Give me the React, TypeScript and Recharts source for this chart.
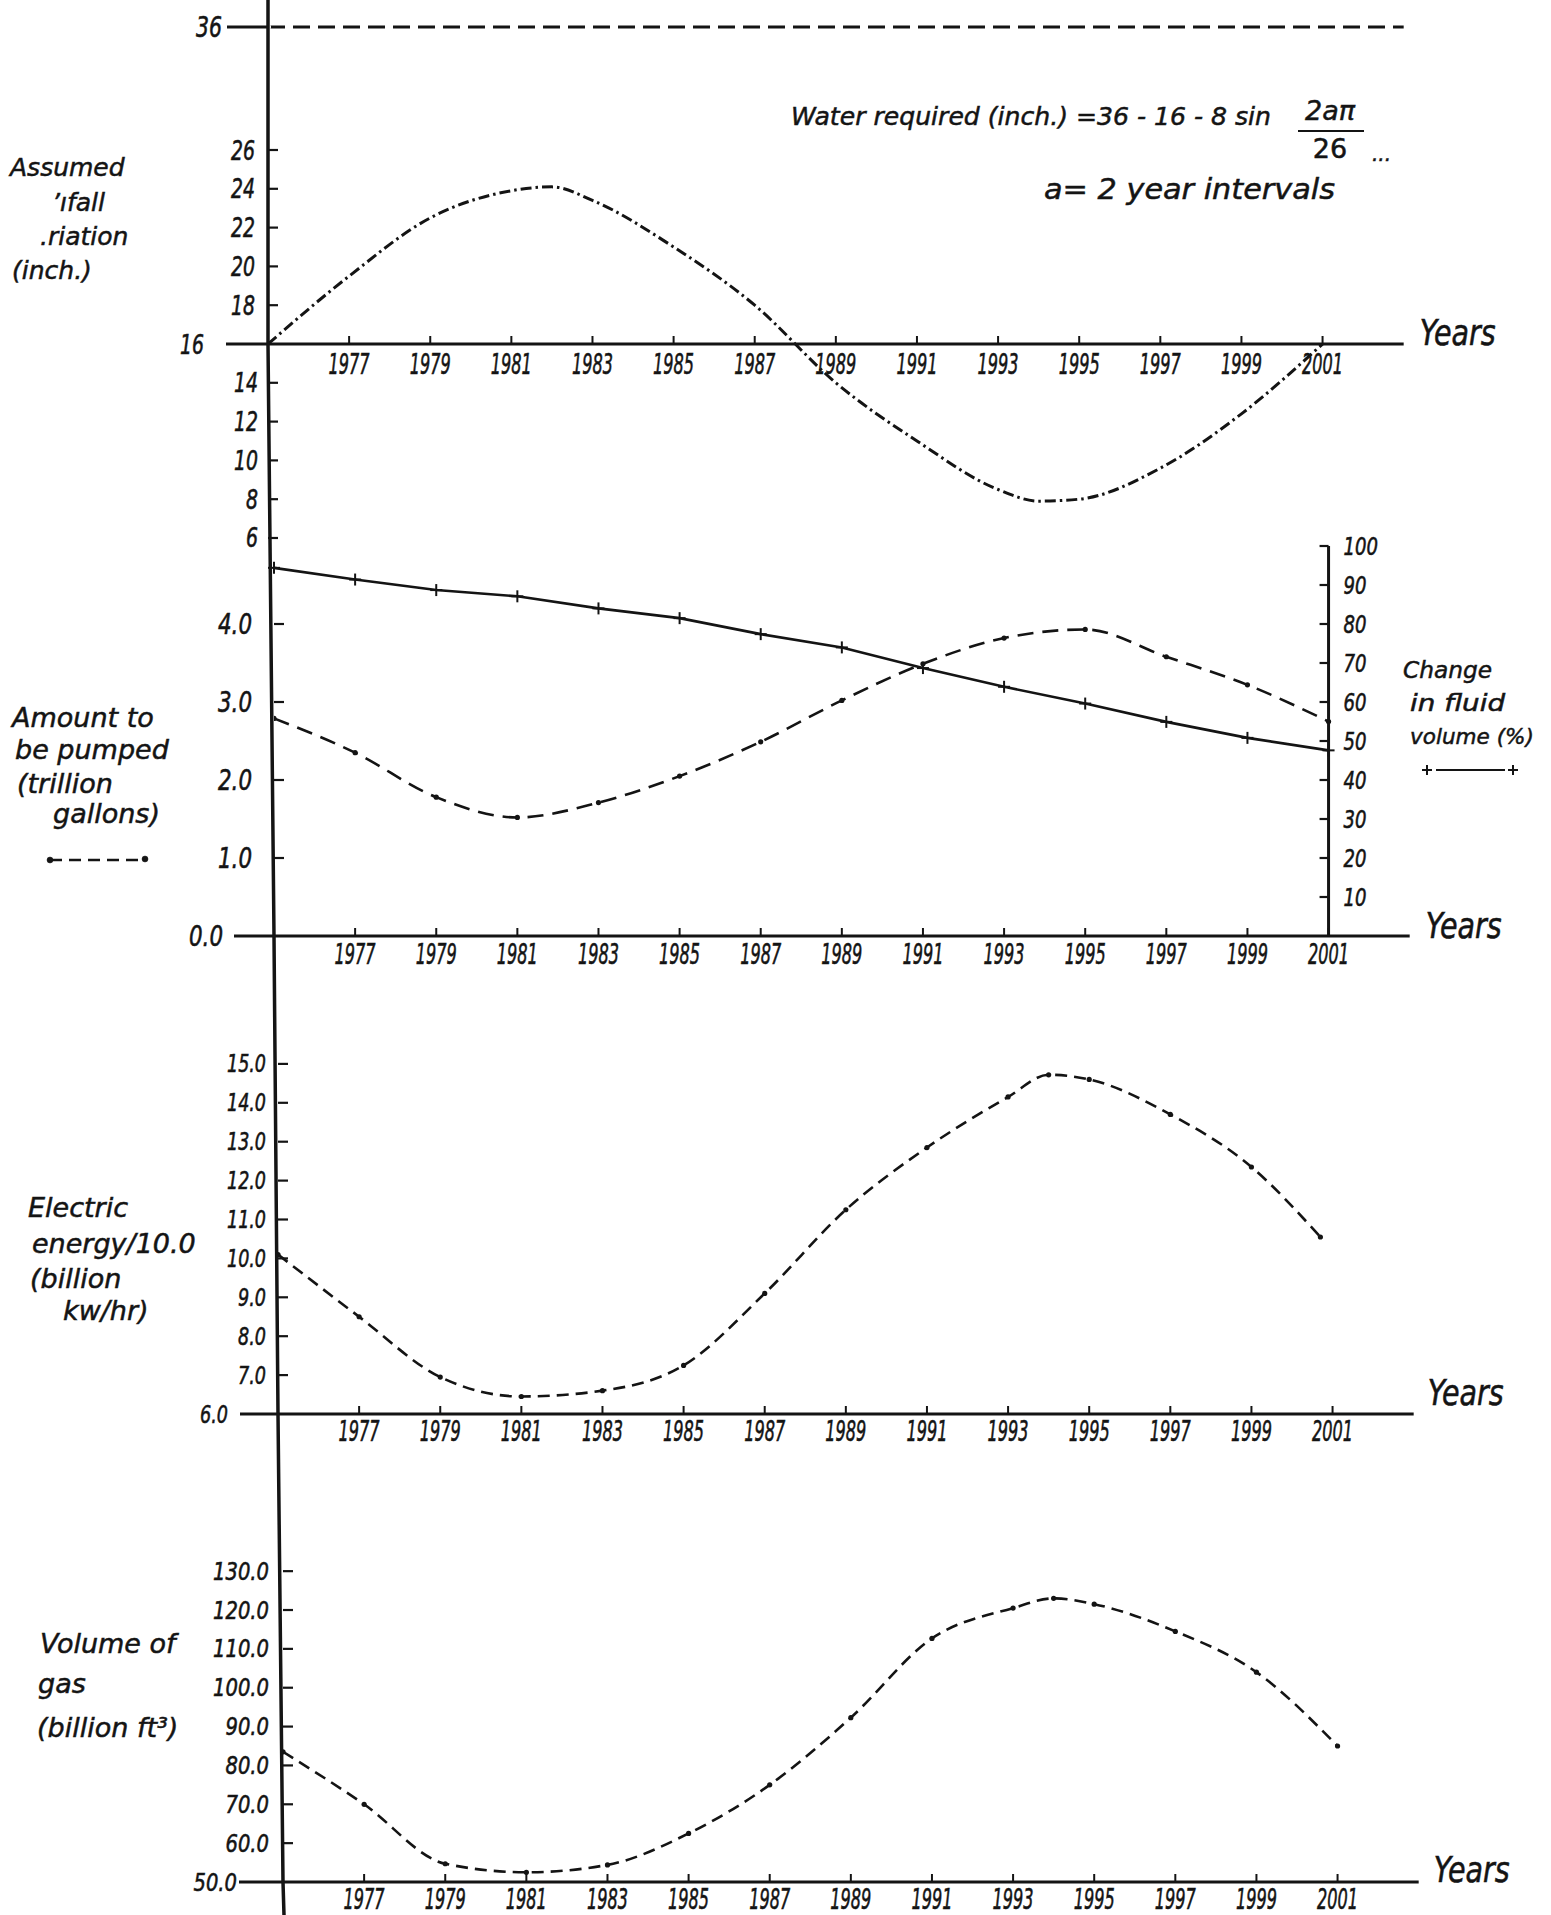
import React from 'react';
import { LineChart, Line, XAxis, YAxis, ReferenceLine, Label } from 'recharts';

// ---------------- data ----------------
const yearTicks = [1977, 1979, 1981, 1983, 1985, 1987, 1989, 1991, 1993, 1995, 1997, 1999, 2001];

const waterRequiredInches = 36;
const rainYears = [1975, 1977, 1979, 1981, 1982, 1983, 1985, 1987, 1989, 1991, 1993, 1994, 1995, 1997, 1999, 2001];
const rainInches = [16.0, 19.5, 22.5, 23.9, 24.1, 23.4, 21.0, 18.0, 14.0, 11.0, 8.5, 7.9, 8.0, 9.6, 12.4, 16.0];
const rainTicksUpper = [16, 18, 20, 22, 24, 26];
const rainTicksLower = [6, 8, 10, 12, 14];

const pumpYears = [1975, 1977, 1979, 1981, 1983, 1985, 1987, 1989, 1991, 1993, 1995, 1997, 1999, 2001];
const pumpedTrillionGal = [2.79, 2.35, 1.78, 1.52, 1.71, 2.05, 2.49, 3.02, 3.49, 3.82, 3.93, 3.58, 3.22, 2.75];
const fluidVolumePct = [94.4, 91.4, 88.7, 87.1, 84.0, 81.5, 77.4, 74.0, 68.7, 63.9, 59.6, 54.9, 50.8, 47.6];
const pumpTicks = [0, 1, 2, 3, 4];
const fluidTicks = [10, 20, 30, 40, 50, 60, 70, 80, 90, 100];

const elecYears = [1975, 1977, 1979, 1981, 1983, 1985, 1987, 1989, 1991, 1993, 1994, 1995, 1997, 1999, 2000.7];
const electricEnergy = [10.1, 8.5, 6.95, 6.45, 6.6, 7.25, 9.1, 11.25, 12.85, 14.15, 14.72, 14.6, 13.7, 12.35, 10.55];
const elecTicks = [6, 7, 8, 9, 10, 11, 12, 13, 14, 15];

const gasYears = [1975, 1977, 1979, 1981, 1983, 1985, 1987, 1989, 1991, 1993, 1994, 1995, 1997, 1999, 2001];
const gasVolume = [83.5, 70, 54.7, 52.5, 54.4, 62.5, 75, 92.3, 112.7, 120.5, 123, 121.5, 114.5, 104, 85];
const gasTicks = [50, 60, 70, 80, 90, 100, 110, 120, 130];

const zip = (xs: number[], ys: number[]) => xs.map((x, i) => ({ year: x, v: ys[i] }));
const rainData = zip(rainYears, rainInches);
const pumpData = pumpYears.map((y, i) => ({ year: y, pumped: pumpedTrillionGal[i], fluid: fluidVolumePct[i] }));
const elecData = zip(elecYears, electricEnergy);
const gasData = zip(gasYears, gasVolume);
const waterData = [{ year: 1975, v: waterRequiredInches }];

// ---------------- style / layout ----------------
const PAGE_W = 1551;
const PAGE_H = 1915;
const INK = '#141414';
const NUMF = "'DejaVu Sans', 'Liberation Sans', sans-serif";
const HAND = "'DejaVu Sans', 'Liberation Sans', sans-serif";
const YEAR_MIN = 1975;
const YEAR_MAX = 2003;
const PX_PER_YEAR = 40.56;
const YAW = 90; // y-axis reserved width
const PEN = { stroke: INK, strokeWidth: 0.6 } as const; // thickens glyphs like pen lettering

const leftMargin = (x0: number) => x0 - YAW;
const rightMarginFor = (x0: number, yearEnd: number, axisW: number) =>
  PAGE_W - x0 - (yearEnd - YEAR_MIN) * PX_PER_YEAR - axisW;

// width of a hand-lettered number: digits are narrow and tall
const numLen = (s: string, dw: number, pw = 6) =>
  s.split('').reduce((a, c) => a + (c === '.' ? pw : dw), 0);

// ---------------- custom ticks ----------------
type LeftTickOpts = {
  fmt: (v: number) => string;
  fontSize: number;
  dw: number;
  stubAt?: number;
  stubLen?: number;
  stubGap?: number;
  gap?: number;
};
const makeLeftTick = (o: LeftTickOpts) => (p: any) => {
  const { x, y, payload } = p;
  const v = Number(payload.value);
  const stubLen = o.stubLen ?? 40;
  const isStub = o.stubAt !== undefined && Math.abs(v - o.stubAt) < 1e-9;
  const s = o.fmt(v);
  return (
    <g>
      {isStub ? (
        <path d={`M${x - stubLen},${y}H${x}`} stroke={INK} strokeWidth={3.2} fill="none" />
      ) : (
        <path d={`M${x},${y}H${x + 10}`} stroke={INK} strokeWidth={2.2} fill="none" />
      )}
      <text
        x={isStub ? x - stubLen - (o.stubGap ?? 6) : x - (o.gap ?? 13)}
        y={y}
        textAnchor="end"
        dominantBaseline="central"
        fontFamily={NUMF}
        fontStyle="italic"
        fontSize={o.fontSize}
        textLength={numLen(s, o.dw)}
        lengthAdjust="spacingAndGlyphs"
        fill={INK}
        {...PEN}
      >
        {s}
      </text>
    </g>
  );
};

const RightTick = (p: any) => {
  const { x, y, payload } = p;
  const s = String(payload.value);
  return (
    <g>
      <line x1={x - 9} x2={x} y1={y} y2={y} stroke={INK} strokeWidth={2.2} />
      <text x={x + 15} y={y} textAnchor="start" dominantBaseline="central" fontFamily={NUMF} fontStyle="italic" fontSize={25}
        textLength={numLen(s, 11.5)} lengthAdjust="spacingAndGlyphs" fill={INK} {...PEN}>
        {s}
      </text>
    </g>
  );
};

const makeYearTick = (labelDy: number) => (p: any) => {
  const { x, y, payload } = p;
  return (
    <g>
      <line x1={x} x2={x} y1={y} y2={y - 8} stroke={INK} strokeWidth={2} />
      <text x={x} y={y + labelDy} textAnchor="middle" dominantBaseline="central" fontFamily={NUMF} fontStyle="italic" fontSize={28}
        textLength={41} lengthAdjust="spacingAndGlyphs" fill={INK} {...PEN}>
        {payload.value}
      </text>
    </g>
  );
};

const makeYearsLabel = (dx: number, dy: number) => (p: any) => {
  const vb = p.viewBox || {};
  return (
    <text x={vb.x + vb.width + dx} y={vb.y + dy} textAnchor="start" dominantBaseline="central" fontFamily={HAND} fontStyle="italic" fontSize={36}
      textLength={76} lengthAdjust="spacingAndGlyphs" fill={INK} {...PEN}>
      Years
    </text>
  );
};

const PlusDot = (p: any) => {
  const { cx, cy, index } = p;
  if (cx == null || cy == null) return <g key={`pd-${index}`} />;
  return (
    <g key={`pd-${index}`}>
      <line x1={cx - 6} x2={cx + 6} y1={cy} y2={cy} stroke={INK} strokeWidth={2} />
      <line x1={cx} x2={cx} y1={cy - 6} y2={cy + 6} stroke={INK} strokeWidth={2} />
    </g>
  );
};

const smallDot = { r: 2.6, fill: INK, stroke: 'none' };

// ---------------- panel helper ----------------
const Abs: React.FC<{ top: number; children: React.ReactNode }> = ({ top, children }) => (
  <div style={{ position: 'absolute', left: 0, top }}>{children}</div>
);

const xAxisCommon = {
  dataKey: 'year',
  type: 'number' as const,
  domain: [YEAR_MIN, YEAR_MAX] as [number, number],
  allowDataOverflow: true,
};

const axisLine = { stroke: INK, strokeWidth: 3 };

export default function App() {
  const x1 = 268;
  const x2 = 274;
  const x3 = 278;
  const x4 = 283;

  const fmtInt = (v: number) => String(v);
  const fmt1 = (v: number) => v.toFixed(1);

  return (
    <div style={{ position: 'absolute', left: 0, top: 0, width: PAGE_W, height: PAGE_H, background: '#ffffff', overflow: 'hidden' }}>
      {/* Panel 1 lower: rainfall <= 16 */}
      <Abs top={324}>
        <LineChart width={PAGE_W} height={233.4} data={rainData} margin={{ top: 20, bottom: 0, left: leftMargin(x1), right: rightMarginFor(x1, YEAR_MAX, 0) }}>
          <XAxis {...xAxisCommon} hide />
          <YAxis type="number" domain={[5, 16]} allowDataOverflow ticks={rainTicksLower} interval={0} width={YAW} axisLine={false} tickLine={false} tickSize={0} tickMargin={0}
            tick={makeLeftTick({ fmt: fmtInt, fontSize: 27, dw: 12, gap: 10 })} />
          <Line type="monotone" dataKey="v" stroke={INK} strokeWidth={3} strokeDasharray="11 4 2.5 4" dot={false} isAnimationActive={false} />
        </LineChart>
      </Abs>

      {/* required water level (broken axis part) */}
      <Abs top={0}>
        <LineChart width={PAGE_W} height={54} data={waterData} margin={{ top: 0, bottom: 0, left: leftMargin(x1), right: rightMarginFor(x1, YEAR_MAX, 0) }}>
          <XAxis {...xAxisCommon} hide />
          <YAxis type="number" domain={[35, 37]} ticks={[36]} interval={0} width={YAW} axisLine={false} tickLine={false} tickSize={0} tickMargin={0}
            tick={makeLeftTick({ fmt: fmtInt, fontSize: 28, dw: 13, stubAt: 36, stubLen: 41, stubGap: 5 })} />
          <ReferenceLine y={waterRequiredInches} stroke={INK} strokeWidth={3} strokeDasharray="17 8" />
          <Line dataKey="v" stroke="none" dot={false} isAnimationActive={false} />
        </LineChart>
      </Abs>

      {/* Panel 1 upper: rainfall >= 16 */}
      <Abs top={0}>
        <LineChart width={PAGE_W} height={384} data={rainData} margin={{ top: 72.4, bottom: 0, left: leftMargin(x1), right: rightMarginFor(x1, YEAR_MAX, 0) }}>
          <XAxis {...xAxisCommon} ticks={yearTicks} interval={0} height={40} axisLine={axisLine} tickLine={false} tickSize={0} tickMargin={0}
            tick={makeYearTick(20)}>
            <Label content={makeYearsLabel(16, -12)} />
          </XAxis>
          <YAxis type="number" domain={[16, 30]} allowDataOverflow ticks={rainTicksUpper} interval={0} width={YAW} axisLine={false} tickLine={false} tickSize={0} tickMargin={0}
            tick={makeLeftTick({ fmt: fmtInt, fontSize: 27, dw: 12, stubAt: 16, stubLen: 42, stubGap: 22 })} />
          <Line type="monotone" dataKey="v" stroke={INK} strokeWidth={3} strokeDasharray="11 4 2.5 4" dot={false} isAnimationActive={false} />
        </LineChart>
      </Abs>

      {/* Panel 2: amount pumped (left axis) */}
      <Abs top={526}>
        <LineChart width={PAGE_W} height={450} data={pumpData} margin={{ top: 20, bottom: 0, left: leftMargin(x2), right: rightMarginFor(x2, YEAR_MAX, 0) }}>
          <XAxis {...xAxisCommon} ticks={yearTicks} interval={0} height={40} axisLine={axisLine} tickLine={false} tickSize={0} tickMargin={0}
            tick={makeYearTick(18)}>
            <Label content={makeYearsLabel(16, -11)} />
          </XAxis>
          <YAxis type="number" domain={[0, 5]} ticks={pumpTicks} interval={0} width={YAW} axisLine={false} tickLine={false} tickSize={0} tickMargin={0}
            tick={makeLeftTick({ fmt: fmt1, fontSize: 29, dw: 14, stubAt: 0, stubLen: 40, stubGap: 11, gap: 22 })} />
          <Line type="monotone" dataKey="pumped" stroke={INK} strokeWidth={2.6} strokeDasharray="16 9" dot={smallDot} isAnimationActive={false} />
        </LineChart>
      </Abs>

      {/* Panel 2: change in fluid volume (right axis at 2001) */}
      <Abs top={526}>
        <LineChart width={PAGE_W} height={450} data={pumpData} margin={{ top: 20, bottom: 40, left: x2, right: rightMarginFor(x2, 2001, YAW) }}>
          <XAxis dataKey="year" type="number" domain={[YEAR_MIN, 2001]} hide />
          <YAxis yAxisId="pct" orientation="right" type="number" domain={[0, 100]} ticks={fluidTicks} interval={0} width={YAW}
            axisLine={axisLine} tickLine={false} tickSize={0} tickMargin={0} tick={RightTick} />
          <Line yAxisId="pct" type="linear" dataKey="fluid" stroke={INK} strokeWidth={2.6} dot={PlusDot} isAnimationActive={false} />
        </LineChart>
      </Abs>

      {/* Panel 3: electric energy */}
      <Abs top={1005}>
        <LineChart width={PAGE_W} height={449} data={elecData} margin={{ top: 20, bottom: 0, left: leftMargin(x3), right: rightMarginFor(x3, YEAR_MAX, 0) }}>
          <XAxis {...xAxisCommon} ticks={yearTicks} interval={0} height={40} axisLine={axisLine} tickLine={false} tickSize={0} tickMargin={0}
            tick={makeYearTick(17)}>
            <Label content={makeYearsLabel(14, -22)} />
          </XAxis>
          <YAxis type="number" domain={[6, 16]} ticks={elecTicks} interval={0} width={YAW} axisLine={false} tickLine={false} tickSize={0} tickMargin={0}
            tick={makeLeftTick({ fmt: fmt1, fontSize: 25, dw: 11, stubAt: 6, stubLen: 38, stubGap: 12, gap: 12 })} />
          <Line type="monotone" dataKey="v" stroke={INK} strokeWidth={2.6} strokeDasharray="12 7" dot={smallDot} isAnimationActive={false} />
        </LineChart>
      </Abs>

      {/* Panel 4: volume of gas */}
      <Abs top={1512}>
        <LineChart width={PAGE_W} height={403} data={gasData} margin={{ top: 20.3, bottom: 0, left: leftMargin(x4), right: rightMarginFor(x4, YEAR_MAX, 0) }}>
          <XAxis {...xAxisCommon} ticks={yearTicks} interval={0} height={33} axisLine={axisLine} tickLine={false} tickSize={0} tickMargin={0}
            tick={makeYearTick(17)}>
            <Label content={makeYearsLabel(15, -13)} />
          </XAxis>
          <YAxis type="number" domain={[50, 140]} ticks={gasTicks} interval={0} width={YAW} axisLine={false} tickLine={false} tickSize={0} tickMargin={0}
            tick={makeLeftTick({ fmt: fmt1, fontSize: 25, dw: 12.5, stubAt: 50, stubLen: 44, stubGap: 2, gap: 14 })} />
          <Line type="monotone" dataKey="v" stroke={INK} strokeWidth={2.6} strokeDasharray="12 7" dot={smallDot} isAnimationActive={false} />
        </LineChart>
      </Abs>

      {/* overlay: continuous (slightly skewed, as scanned) vertical axis + hand-written labels */}
      <svg width={PAGE_W} height={PAGE_H} style={{ position: 'absolute', left: 0, top: 0, pointerEvents: 'none' }}>
        <polyline points={`268,0 268,344 274,936 278,1414 283,1882 284,1915`} fill="none" stroke={INK} strokeWidth={3.5} />

        <g fontFamily={HAND} fontStyle="italic" fill={INK} stroke={INK} strokeWidth={0.5}>
          {/* annotation */}
          <text x={791} y={116} fontSize={25} dominantBaseline="central" textLength={480} lengthAdjust="spacingAndGlyphs">Water required (inch.) =36 - 16 - 8 sin</text>
          <text x={1330} y={110} fontSize={27} textAnchor="middle" dominantBaseline="central">2aπ</text>
          <line x1={1298} x2={1364} y1={131} y2={131} stroke={INK} strokeWidth={2} />
          <text x={1330} y={148} fontSize={27} textAnchor="middle" dominantBaseline="central" fontStyle="normal">26</text>
          <text x={1372} y={154} fontSize={20} dominantBaseline="central">...</text>
          <text x={1044} y={189} fontSize={28} dominantBaseline="central" textLength={291} lengthAdjust="spacingAndGlyphs">a= 2 year intervals</text>

          {/* panel 1 label */}
          <text fontSize={25} dominantBaseline="central">
            <tspan x={10} y={167}>Assumed</tspan>
            <tspan x={52} y={202}>’ıfall</tspan>
            <tspan x={40} y={236}>.riation</tspan>
            <tspan x={12} y={270}>(inch.)</tspan>
          </text>

          {/* panel 2 left label */}
          <text fontSize={27} dominantBaseline="central">
            <tspan x={12} y={717}>Amount to</tspan>
            <tspan x={15} y={749}>be pumped</tspan>
            <tspan x={17} y={783}>(trillion</tspan>
            <tspan x={53} y={813}>gallons)</tspan>
          </text>
          <line x1={50} x2={145} y1={860} y2={860} stroke={INK} strokeWidth={2.5} strokeDasharray="12 7" />
          <circle cx={50} cy={860} r={3} fill={INK} />
          <circle cx={145} cy={859} r={3} fill={INK} />

          {/* panel 2 right legend */}
          <text x={1403} y={670} fontSize={23} dominantBaseline="central" textLength={89} lengthAdjust="spacingAndGlyphs">Change</text>
          <text x={1410} y={703} fontSize={23} dominantBaseline="central" textLength={95} lengthAdjust="spacingAndGlyphs">in fluid</text>
          <text x={1410} y={736} fontSize={22} dominantBaseline="central" textLength={124} lengthAdjust="spacingAndGlyphs">volume (%)</text>
          <line x1={1436} x2={1505} y1={770} y2={770} stroke={INK} strokeWidth={2} />
          <line x1={1422} x2={1432} y1={770} y2={770} stroke={INK} strokeWidth={2} />
          <line x1={1427} x2={1427} y1={765} y2={775} stroke={INK} strokeWidth={2} />
          <line x1={1508} x2={1518} y1={770} y2={770} stroke={INK} strokeWidth={2} />
          <line x1={1513} x2={1513} y1={765} y2={775} stroke={INK} strokeWidth={2} />

          {/* panel 3 label */}
          <text fontSize={27} dominantBaseline="central">
            <tspan x={28} y={1207}>Electric</tspan>
            <tspan x={32} y={1243}>energy/10.0</tspan>
            <tspan x={30} y={1278}>(billion</tspan>
            <tspan x={63} y={1310}>kw/hr)</tspan>
          </text>

          {/* panel 4 label */}
          <text fontSize={27} dominantBaseline="central">
            <tspan x={40} y={1643}>Volume of</tspan>
            <tspan x={38} y={1683}>gas</tspan>
            <tspan x={37} y={1727}>(billion ft³)</tspan>
          </text>
        </g>
      </svg>
    </div>
  );
}
